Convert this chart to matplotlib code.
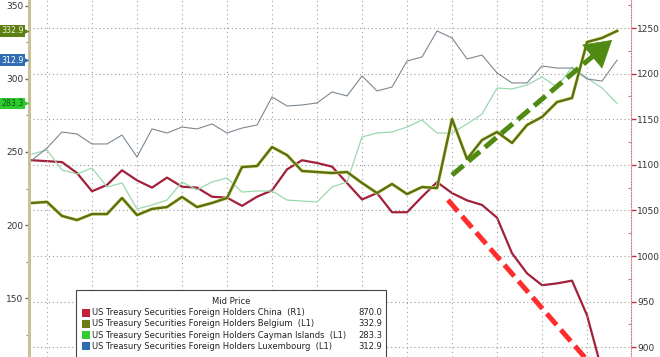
import matplotlib
matplotlib.use("Agg")
import numpy as np
import matplotlib.pyplot as plt
import matplotlib.patheffects as pe
import matplotlib.transforms as mtransforms
from matplotlib.patches import Rectangle
from matplotlib.ticker import MultipleLocator, FixedLocator

# monthly points, oldest first
months = np.arange(40)

china = [1105, 1104, 1103, 1091, 1071, 1078, 1094, 1083, 1075, 1086,
         1076, 1075, 1065, 1064, 1055, 1065, 1072, 1095, 1105, 1102,
         1098, 1080, 1062, 1069, 1048, 1048, 1065, 1081, 1069, 1061,
         1056, 1042, 1003, 981, 968, 970, 973, 935, 874, 870]
belgium = [215.1, 215.8, 206.2, 203.4, 207.5, 207.5, 218.5, 206.8, 211.0, 212.3,
           219.2, 212.3, 215.1, 218.5, 239.7, 240.4, 253.4, 247.9, 237.0, 236.3,
           235.6, 236.3, 228.8, 221.9, 228.1, 221.2, 226.0, 225.3, 272.6, 245.2,
           258.2, 263.7, 256.2, 268.5, 274.0, 284.2, 287.0, 325.3, 328.1, 332.9]
cayman = [248.6, 251.4, 237.7, 234.9, 239.0, 226.0, 228.8, 211.0, 213.7, 217.1,
          229.5, 224.0, 229.5, 232.2, 222.6, 223.3, 223.3, 217.1, 216.4, 215.8,
          226.0, 229.5, 260.3, 263.0, 263.7, 267.1, 271.9, 263.0, 263.0, 269.2,
          276.0, 293.8, 293.2, 295.9, 301.4, 294.5, 308.2, 300.7, 293.8, 283.3]
luxembourg = [244.5, 252.7, 263.7, 262.3, 255.5, 255.5, 261.6, 246.6, 265.8, 263.0,
              267.1, 265.8, 269.2, 263.0, 266.4, 268.5, 287.7, 281.5, 282.2, 283.6,
              291.1, 288.4, 302.1, 291.8, 294.5, 312.3, 315.1, 332.9, 328.1, 313.7,
              316.4, 304.1, 297.3, 297.3, 308.9, 307.5, 307.5, 300.0, 298.6, 312.9]

legend_names = ["US Treasury Securities Foreign Holders China  (R1)",
                "US Treasury Securities Foreign Holders Belgium  (L1)",
                "US Treasury Securities Foreign Holders Cayman Islands  (L1)",
                "US Treasury Securities Foreign Holders Luxembourg  (L1)"]
legend_values = ["870.0", "332.9", "283.3", "312.9"]
legend_colors = ["#c0203a", "#6b7d12", "#33cc33", "#2a6db0"]

W, H = 660, 357
fig = plt.figure(figsize=(W / 100, H / 100), dpi=100)
ax = fig.add_axes([29 / W, 0, 602 / W, 1])
ax2 = ax.twinx()

# left axis in front of right one so the grid sits underneath
ax.set_zorder(ax2.get_zorder() + 1)
ax.patch.set_visible(False)

ax.set_xlim(-0.2, 39.93)
ax.set_ylim(109.6, 354.1)
ax2.set_ylim(889.3, 1280.7)

ax2.plot(months, china, color="#a3203a", lw=1.6)
ax.plot(months, cayman, color="#9ad8b0", lw=0.9)
ax.plot(months, luxembourg, color="#7d8790", lw=0.8)
ax.plot(months, belgium, color="#5a7012", lw=1.7,
        path_effects=[pe.Stroke(linewidth=2.5, foreground="#dfe58a"), pe.Normal()])

# grids
ax.xaxis.set_major_locator(FixedLocator(np.arange(1, 40, 3)))
ax.tick_params(axis="x", length=0, labelbottom=False)
ax.grid(axis="x", color="#a0a0a0", ls=(0, (1, 3)), lw=0.8)
ax2.yaxis.set_major_locator(MultipleLocator(50))
ax2.yaxis.set_minor_locator(MultipleLocator(25))
ax2.grid(axis="y", color="#9a9a9a", ls=(0, (1, 2.5)), lw=0.8)

# left axis
ax.yaxis.set_major_locator(MultipleLocator(50))
ax.yaxis.set_minor_locator(MultipleLocator(25))
ax.tick_params(axis="y", which="major", length=3, width=1, color="#6d6d40",
               labelsize=6.5, labelcolor="#333333", pad=1)
ax.tick_params(axis="y", which="minor", length=2, width=0.8, color="#8a8a70")
for s in ["top", "bottom", "right"]:
    ax.spines[s].set_visible(False)
ax.spines["left"].set_color("#c9bf98")
ax.spines["left"].set_linewidth(2.2)

# right axis
for s in ["top", "bottom", "left"]:
    ax2.spines[s].set_visible(False)
ax2.spines["right"].set_color("#c9808c")
ax2.spines["right"].set_linewidth(0.8)
ax2.spines["right"].set_linestyle((0, (1, 1.5)))
ax2.tick_params(axis="y", which="major", length=3.5, width=1, color="#c03040",
                labelsize=6.5, labelcolor="#333333", pad=1)
ax2.tick_params(axis="y", which="minor", direction="in", length=2.5, width=0.8,
                color="#c9808c")

# trend arrows (annotations drawn in left-axis coordinates)
g_start, g_base, g_tip = (28.0, 234.2), (37.6, 317.5), (38.67, 326.7)
ax.plot([g_start[0], g_base[0]], [g_start[1], g_base[1]], color="#4f8a12",
        lw=3.6, dashes=(3, 1.3), solid_capstyle="butt", zorder=6)
ax.annotate("", xy=g_tip, xytext=g_base,
            arrowprops=dict(arrowstyle="-|>,head_length=1.0,head_width=0.6",
                            color="#4f8a12", lw=0.5, mutation_scale=18,
                            shrinkA=0, shrinkB=0), zorder=6)
r_start, r_end = (27.73, 217.1), (37.87, 97.3)
ax.plot([r_start[0], r_end[0]], [r_start[1], r_end[1]], color="#ff2d2d",
        lw=3.6, dashes=(3, 1.3), zorder=6)

# last value tags on the left
tag_trans = mtransforms.blended_transform_factory(ax.transAxes, ax.transData)
tags = [(belgium[-1], "#5b7f12", "#eef3cf"),
        (luxembourg[-1], "#2f6eb5", "#ffffff"),
        (cayman[-1], "#2fcc2f", "#0d5a0d")]
for val, bg, fg in tags:
    ax.text(-5.5 / 602, val, f"{val:.1f}", transform=tag_trans, ha="right", va="center",
            fontsize=5.7, color=fg, clip_on=False, zorder=10,
            bbox=dict(boxstyle="square,pad=0.15", fc=bg, ec="none"))
    ax.plot([-5.0 / 602], [val], marker=">", ms=7, color=bg, mec="none",
            transform=tag_trans, clip_on=False, zorder=9)


# legend box, placed in pixels of the figure
def px(x, y):
    return x / W, 1 - y / H


lx0, ly0 = px(76, 290)
fig.patches.append(Rectangle((lx0, -0.02), 310 / W, ly0 + 0.02,
                             transform=fig.transFigure, fc="white",
                             ec="#444444", lw=0.8, zorder=20))
tx, ty = px(231, 302)
fig.text(tx, ty, "Mid Price", ha="center", va="center", fontsize=6,
         color="#222222", zorder=21)
for k, (name, val, col) in enumerate(zip(legend_names, legend_values, legend_colors)):
    yy = 312.5 + k * 11.3
    sx, sy = px(82, yy + 4)
    fig.patches.append(Rectangle((sx, sy), 8 / W, 8 / H, transform=fig.transFigure,
                                 fc=col, ec="none", zorder=21))
    nx, ny = px(92, yy)
    fig.text(nx, ny, name, ha="left", va="center", fontsize=6,
             color="#222222", zorder=21)
    vx, vy = px(358, yy)
    fig.text(vx, vy, val, ha="left", va="center", fontsize=6,
             color="#222222", zorder=21)

fig.savefig("out.png", dpi=100)
